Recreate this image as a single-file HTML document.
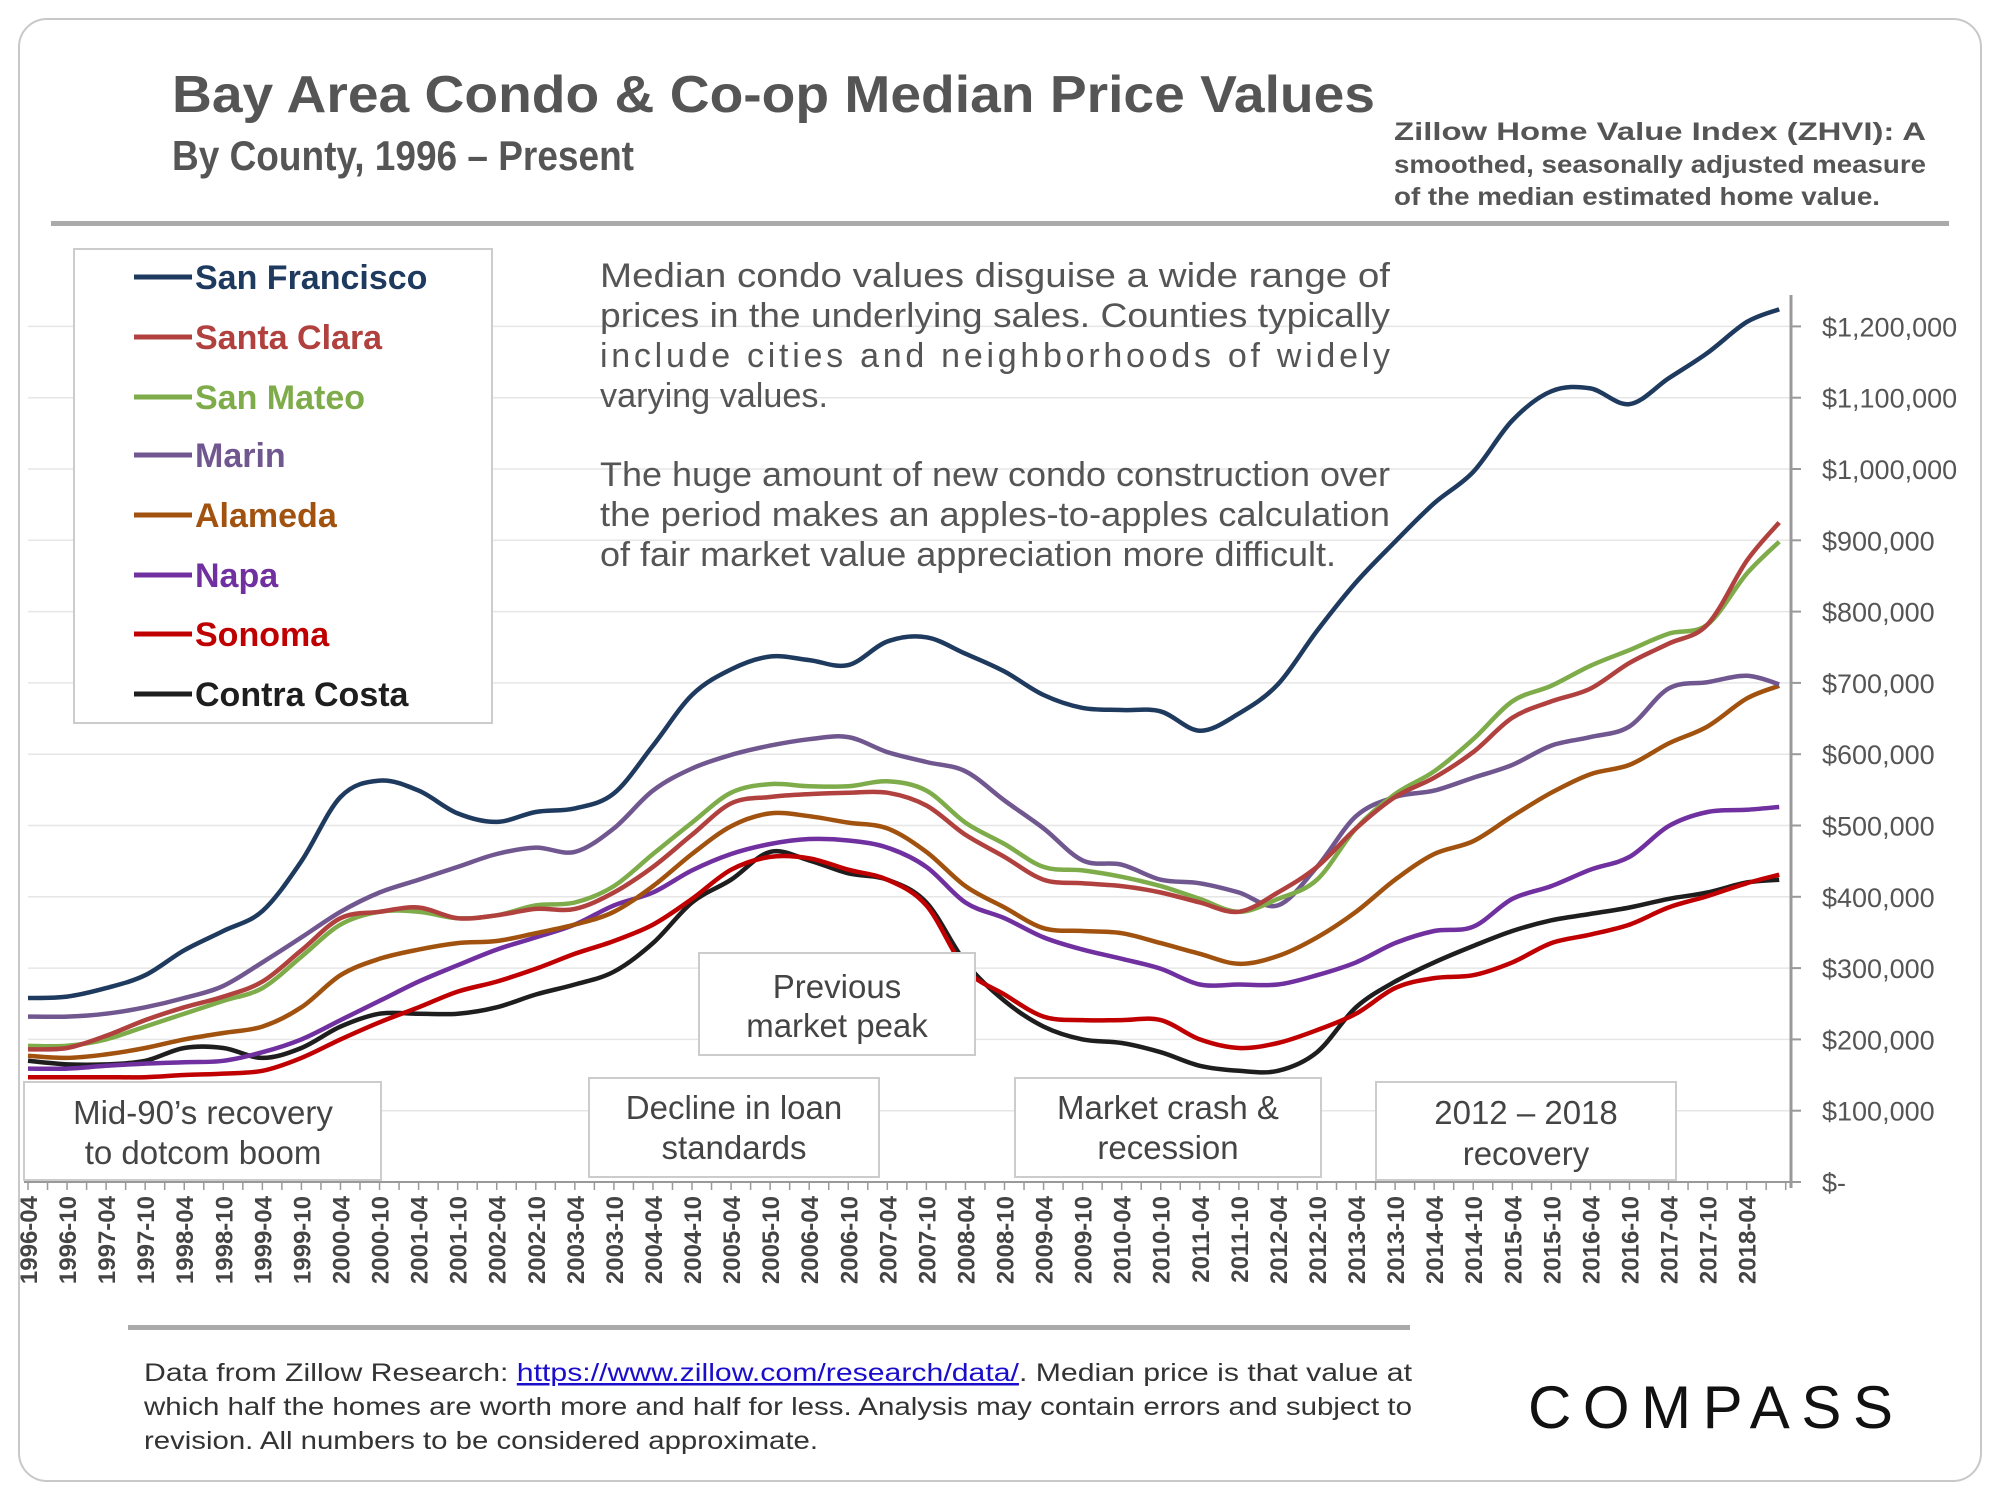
<!DOCTYPE html>
<html><head><meta charset="utf-8"><style>
html,body{margin:0;padding:0;background:#fff;}
body{width:2000px;height:1500px;overflow:hidden;font-family:"Liberation Sans",sans-serif;}
</style></head><body>
<svg id="chart" width="2000" height="1500" viewBox="0 0 2000 1500" xmlns="http://www.w3.org/2000/svg" font-family="Liberation Sans, sans-serif">
<rect x="19" y="19" width="1962" height="1462" rx="28" fill="#fff" stroke="#c8c8c8" stroke-width="2"/>
<text x="172" y="112" font-size="52" font-weight="bold" fill="#555" textLength="1203" lengthAdjust="spacingAndGlyphs">Bay Area Condo &amp; Co-op Median Price Values</text>
<text x="172" y="170" font-size="42" font-weight="bold" fill="#555" textLength="462" lengthAdjust="spacingAndGlyphs">By County, 1996 – Present</text>
<g font-size="25" font-weight="bold" fill="#555">
<text x="1394" y="140" textLength="532" lengthAdjust="spacingAndGlyphs">Zillow   Home   Value   Index   (ZHVI):   A</text>
<text x="1394" y="173" textLength="532" lengthAdjust="spacingAndGlyphs">smoothed, seasonally adjusted measure</text>
<text x="1394" y="205" textLength="486" lengthAdjust="spacingAndGlyphs">of the median estimated home value.</text>
</g>
<rect x="51" y="221" width="1898" height="5" fill="#aaa"/>
<g id="grid"></g>
<g id="series"></g>
<g id="yaxis"></g>
<g id="xaxis"></g>
<rect x="74" y="249" width="418" height="474" fill="#fff" stroke="#ccc" stroke-width="2"/>
<g id="legend"></g>
<g font-size="34" fill="#555">
<text x="600" y="287" textLength="790" lengthAdjust="spacingAndGlyphs">Median condo values disguise a wide range of</text>
<text x="600" y="327" textLength="790" lengthAdjust="spacingAndGlyphs">prices in the underlying sales. Counties typically</text>
<text x="600" y="367" textLength="790" lengthAdjust="spacing">include  cities  and  neighborhoods  of  widely</text>
<text x="600" y="407" textLength="228" lengthAdjust="spacingAndGlyphs">varying values.</text>
<text x="600" y="486" textLength="790" lengthAdjust="spacingAndGlyphs">The huge amount of new condo construction over</text>
<text x="600" y="526" textLength="790" lengthAdjust="spacingAndGlyphs">the period makes an apples-to-apples calculation</text>
<text x="600" y="566" textLength="736" lengthAdjust="spacingAndGlyphs">of fair market value appreciation more difficult.</text>
</g>
<g font-size="33" fill="#444" text-anchor="middle">
<g><rect x="699" y="953" width="276" height="102" fill="#fff" stroke="#ccc" stroke-width="2"/><text x="837" y="998">Previous</text><text x="837" y="1037">market peak</text></g>
<g><rect x="24" y="1082" width="357" height="98" fill="#fff" stroke="#ccc" stroke-width="2"/><text x="203" y="1124">Mid-90’s recovery</text><text x="203" y="1164">to dotcom boom</text></g>
<g><rect x="589" y="1078" width="290" height="99" fill="#fff" stroke="#ccc" stroke-width="2"/><text x="734" y="1119">Decline in loan</text><text x="734" y="1159">standards</text></g>
<g><rect x="1015" y="1078" width="306" height="99" fill="#fff" stroke="#ccc" stroke-width="2"/><text x="1168" y="1119">Market crash &amp;</text><text x="1168" y="1159">recession</text></g>
<g><rect x="1376" y="1082" width="300" height="98" fill="#fff" stroke="#ccc" stroke-width="2"/><text x="1526" y="1124">2012 – 2018</text><text x="1526" y="1165">recovery</text></g>
</g>
<rect x="128" y="1325" width="1282" height="5" fill="#aaa"/>
<g font-size="25" fill="#333">
<text x="144" y="1381" textLength="1268" lengthAdjust="spacingAndGlyphs">Data from Zillow Research: <tspan fill="#1a0dcc" text-decoration="underline">https://www.zillow.com/research/data/</tspan>. Median price is that value at</text>
<text x="144" y="1415" textLength="1268" lengthAdjust="spacingAndGlyphs">which half the homes are worth more and half for less. Analysis may contain errors and subject to</text>
<text x="144" y="1449" textLength="674" lengthAdjust="spacingAndGlyphs">revision. All numbers to be considered approximate.</text>
</g>
<text x="1528" y="1428" font-size="60" fill="#111" textLength="365" lengthAdjust="spacing">COMPASS</text>
</svg>
<script>
const dates = [];
for (let y = 1996; y <= 2018; y++) { dates.push(y + "-04"); if (y < 2018) dates.push(y + "-10"); }
dates.push("2018-09");
const seriesNames = ["San Francisco","Santa Clara","San Mateo","Marin","Alameda","Napa","Sonoma","Contra Costa"];
const sanFrancisco = [258,260,272,290,325,352,380,450,540,563,549,517,505,519,524,545,612,683,719,737,732,725,758,764,741,716,683,665,662,660,633,657,698,773,841,898,952,996,1068,1109,1113,1091,1127,1163,1206,1224];
const santaClara = [186,188,205,227,245,260,281,325,370,379,385,370,374,383,383,406,442,487,531,540,544,546,546,528,487,456,424,419,415,406,392,379,406,442,496,540,567,603,651,674,692,728,755,782,871,925];
const sanMateo = [191,191,200,218,236,254,272,316,361,379,379,370,374,388,392,415,460,504,546,558,555,555,562,549,504,474,442,437,428,415,397,379,397,424,496,544,576,621,674,696,724,746,769,782,853,898];
const marin = [232,232,236,245,258,275,308,343,379,406,424,442,460,469,463,496,549,580,599,612,621,624,603,589,576,535,496,451,445,424,419,406,388,442,513,540,549,567,585,612,624,639,692,701,710,698];
const alameda = [177,174,179,188,200,209,218,245,290,313,326,335,338,349,361,379,415,460,499,517,513,504,496,463,415,385,356,352,349,335,320,306,317,343,379,424,460,478,513,546,572,585,615,639,678,696];
const napa = [159,159,163,166,168,170,182,200,227,254,281,304,326,343,361,388,406,437,460,474,481,479,469,442,392,370,343,326,313,299,277,277,277,290,308,335,352,358,397,415,438,456,499,519,522,526];
const sonoma = [147,147,147,147,150,152,156,174,200,224,245,267,281,299,320,338,361,397,438,456,454,438,424,388,299,263,232,227,227,227,200,188,195,213,236,272,286,290,308,335,347,361,385,401,419,431];
const contraCosta = [170,165,165,170,188,188,174,188,218,236,236,236,245,263,277,295,335,392,424,463,451,433,424,392,308,254,218,200,195,182,163,156,156,182,245,281,308,331,352,367,376,385,397,406,420,424];
const yTicks = [0,100,200,300,400,500,600,700,800,900,1000,1100,1200];
const yTickLabels = ["$-","$100,000","$200,000","$300,000","$400,000","$500,000","$600,000","$700,000","$800,000","$900,000","$1,000,000","$1,100,000","$1,200,000"];

const seriesData = [sanFrancisco,santaClara,sanMateo,marin,alameda,napa,sonoma,contraCosta];
const colors = ["#1f3a5f","#b0413e","#7fac4a","#70578f","#a1520f","#7030a0","#c00000","#1e1e1e"];
const NS = "http://www.w3.org/2000/svg";
const X0 = 28, MONTH = 6.51, Y0 = 1182, PER100 = 71.3;
function monthIndex(d){ const [y,m]=d.split("-").map(Number); return (y-1996)*12 + (m-4); }
function xPos(d){ return X0 + monthIndex(d)*MONTH; }
function yPos(v){ return Y0 - v/100*PER100; }
function mk(tag, attrs, parent){ const e=document.createElementNS(NS,tag); for(const k in attrs) e.setAttribute(k,attrs[k]); parent.appendChild(e); return e; }

const grid = document.getElementById("grid");
const yaxis = document.getElementById("yaxis");
yTicks.forEach((t,i)=>{
  const y = yPos(t);
  if (t>0) { const gl = mk("line",{x1:28,x2:1791,y1:y,y2:y,stroke:"#e6e6e6","stroke-width":1.5},grid);
      }
  const tk = mk("line",{x1:1791,x2:1801,y1:y,y2:y,stroke:"#999","stroke-width":2},yaxis);
   
  const lb = mk("text",{x:1822,y:y+10,"font-size":27,fill:"#555"},yaxis);
  lb.textContent = yTickLabels[i];
   
});
const axl = mk("line",{x1:1791,x2:1791,y1:295,y2:1188,stroke:"#999","stroke-width":3},yaxis);
 

const xaxis = document.getElementById("xaxis");
const xl = mk("line",{x1:24,x2:1791,y1:Y0,y2:Y0,stroke:"#999","stroke-width":2},xaxis);
 
for (let m=0; m<=270; m+=3){
  const x = X0 + m*MONTH;
  const t = mk("line",{x1:x,x2:x,y1:Y0,y2:Y0+8,stroke:"#999","stroke-width":1.5},xaxis);
   
}
dates.slice(0,dates.length-1).forEach(d=>{
  const x = xPos(d)+9;
  const lb = mk("text",{x:0,y:0,"font-size":24,"font-weight":"bold",fill:"#444","text-anchor":"end",transform:`translate(${x},1196) rotate(-90)`},xaxis);
  lb.textContent = d;
   
});

function smoothPath(pts){
  let d = `M${pts[0][0]},${pts[0][1]}`;
  for (let i=0;i<pts.length-1;i++){
    const p0=pts[Math.max(0,i-1)], p1=pts[i], p2=pts[i+1], p3=pts[Math.min(pts.length-1,i+2)];
    const c1=[p1[0]+(p2[0]-p0[0])/6, p1[1]+(p2[1]-p0[1])/6];
    const c2=[p2[0]-(p3[0]-p1[0])/6, p2[1]-(p3[1]-p1[1])/6];
    d += ` C${c1[0].toFixed(1)},${c1[1].toFixed(1)} ${c2[0].toFixed(1)},${c2[1].toFixed(1)} ${p2[0].toFixed(1)},${p2[1].toFixed(1)}`;
  }
  return d;
}
const sg = document.getElementById("series");
for (let s=seriesData.length-1; s>=0; s--){
  const pts = seriesData[s].map((v,i)=>[xPos(dates[i]), yPos(v)]);
  const p = mk("path",{d:smoothPath(pts),fill:"none",stroke:colors[s],"stroke-width":4.5,"stroke-linejoin":"round"},sg);
  
  
}
const lg = document.getElementById("legend");
const legendY = [277,337,397,455,515,575,634,694];
seriesNames.forEach((n,i)=>{
  const g = mk("g",{},lg);
  
  
  mk("line",{x1:134,x2:192,y1:legendY[i],y2:legendY[i],stroke:colors[i],"stroke-width":5},g);
  const t = mk("text",{x:195,y:legendY[i]+12,"font-size":34,"font-weight":"bold",fill:colors[i]},g);
  t.textContent = n;
});
</script>
</body></html>
